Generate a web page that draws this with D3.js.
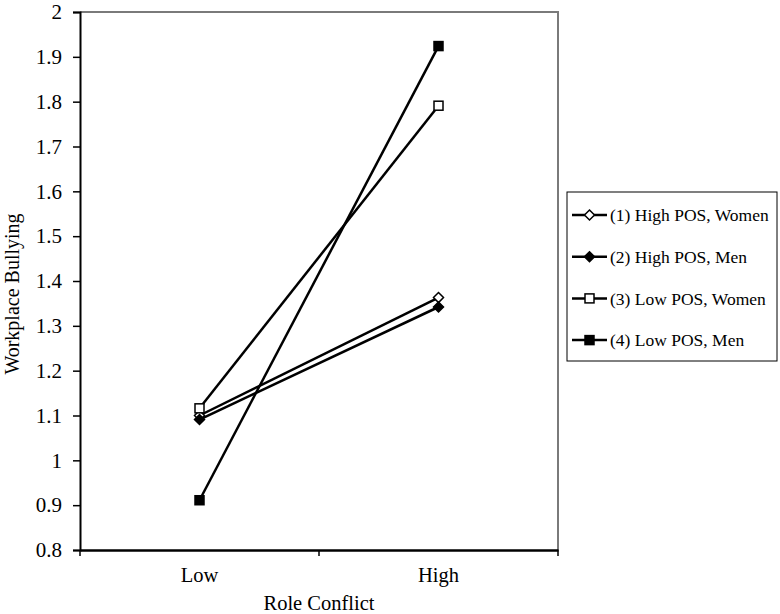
<!DOCTYPE html>
<html>
<head>
  <meta charset="utf-8">
  <script src="https://cdn.jsdelivr.net/npm/d3@7"></script>
  <style>
    body { margin: 0; background: #fff; }
    text { font-family: "Liberation Serif", "Times New Roman", serif; fill: #000; }
  </style>
</head>
<body>
  <svg id="chart" width="780" height="614"></svg>
  <script>
    const categories = ['Low', 'High'];
    const seriesNames = ['(1) High POS, Women', '(2) High POS, Men', '(3) Low POS, Women', '(4) Low POS, Men'];
    const seriesValues = [
      [1.10, 1.363],
      [1.091, 1.342],
      [1.116, 1.791],
      [0.911, 1.924]
    ];
    const seriesMarkers = ['diamondOpen', 'diamond', 'squareOpen', 'square'];
    const yTicks = [0.8, 0.9, 1, 1.1, 1.2, 1.3, 1.4, 1.5, 1.6, 1.7, 1.8, 1.9, 2];

    const svg = d3.select('#chart');
    const margin = { left: 80, top: 12, right: 558, bottom: 550 };
    const serif = '"Liberation Serif", "Times New Roman", serif';

    const x = d3.scaleBand().domain(categories).range([margin.left, margin.right]);
    const y = d3.scaleLinear().domain([0.8, 2]).range([margin.bottom, margin.top]);

    // frame (top and right grey)
    svg.append('path')
      .attr('d', `M${margin.left},${margin.top}H${margin.right}V${margin.bottom}`)
      .attr('fill', 'none')
      .attr('stroke', '#7a7a7a')
      .attr('stroke-width', 2);

    // y axis
    const yAxis = svg.append('g')
      .attr('transform', `translate(${margin.left},0)`)
      .call(d3.axisLeft(y).tickValues(yTicks).tickSize(7).tickPadding(11).tickFormat(d3.format('')));
    yAxis.attr('font-family', serif);
    yAxis.select('.domain').attr('stroke', '#000').attr('stroke-width', 2);
    yAxis.selectAll('.tick line').attr('stroke', '#000').attr('stroke-width', 1.5);
    yAxis.selectAll('.tick text')
      .style('font-family', serif)
      .style('font-size', '21px')
      .attr('fill', '#000');

    // x axis
    const xAxis = svg.append('g')
      .attr('transform', `translate(0,${margin.bottom})`)
      .call(d3.axisBottom(x).tickSize(0).tickPadding(17));
    xAxis.attr('font-family', serif);
    xAxis.select('.domain').attr('stroke', '#000').attr('stroke-width', 2.5);
    xAxis.selectAll('.tick text')
      .style('font-family', serif)
      .style('font-size', '20.5px')
      .attr('fill', '#000');
    // boundary ticks between categories
    const bounds = [margin.left, margin.left + x.bandwidth(), margin.right];
    xAxis.selectAll('.bound')
      .data(bounds)
      .enter()
      .append('line')
      .attr('x1', d => d).attr('x2', d => d)
      .attr('y1', 0).attr('y2', 6)
      .attr('stroke', '#000')
      .attr('stroke-width', 1.5);

    // axis titles
    svg.append('text')
      .attr('x', (margin.left + margin.right) / 2)
      .attr('y', 610)
      .attr('text-anchor', 'middle')
      .style('font-family', serif)
      .style('font-size', '20.5px')
      .text('Role Conflict');

    svg.append('text')
      .attr('transform', 'translate(19,294) rotate(-90)')
      .attr('text-anchor', 'middle')
      .style('font-family', serif)
      .style('font-size', '20px')
      .text('Workplace Bullying');

    const cx = c => x(c) + x.bandwidth() / 2;

    function drawMarker(g, type, px, py) {
      if (type.startsWith('diamond')) {
        const s = 5;
        g.append('path')
          .attr('d', `M${px},${py - s}L${px + s},${py}L${px},${py + s}L${px - s},${py}Z`)
          .attr('fill', type === 'diamond' ? '#000' : '#fff')
          .attr('stroke', '#000')
          .attr('stroke-width', 1.5);
      } else {
        const s = 9;
        g.append('rect')
          .attr('x', px - s / 2).attr('y', py - s / 2)
          .attr('width', s).attr('height', s)
          .attr('fill', type === 'square' ? '#000' : '#fff')
          .attr('stroke', '#000')
          .attr('stroke-width', 1.5);
      }
    }

    const line = d3.line()
      .x((d, i) => cx(categories[i]))
      .y(d => y(d));

    const plot = svg.append('g');
    seriesValues.forEach((vals, si) => {
      plot.append('path')
        .datum(vals)
        .attr('d', line)
        .attr('fill', 'none')
        .attr('stroke', '#000')
        .attr('stroke-width', 2.5);
    });
    seriesValues.forEach((vals, si) => {
      vals.forEach((v, i) => drawMarker(plot, seriesMarkers[si], cx(categories[i]), y(v)));
    });

    // legend
    const legend = svg.append('g');
    legend.append('rect')
      .attr('x', 567).attr('y', 192)
      .attr('width', 210).attr('height', 169)
      .attr('fill', '#fff')
      .attr('stroke', '#000')
      .attr('stroke-width', 1);

    seriesNames.forEach((name, i) => {
      const ly = 215 + i * 41.7;
      legend.append('line')
        .attr('x1', 572).attr('x2', 607)
        .attr('y1', ly).attr('y2', ly)
        .attr('stroke', '#000')
        .attr('stroke-width', 2.5);
      drawMarker(legend, seriesMarkers[i], 589.5, ly);
      legend.append('text')
        .attr('x', 610)
        .attr('y', ly)
        .attr('dy', '0.35em')
        .style('font-family', serif)
        .style('font-size', '17.5px')
        .text(name);
    });
  </script>
</body>
</html>
